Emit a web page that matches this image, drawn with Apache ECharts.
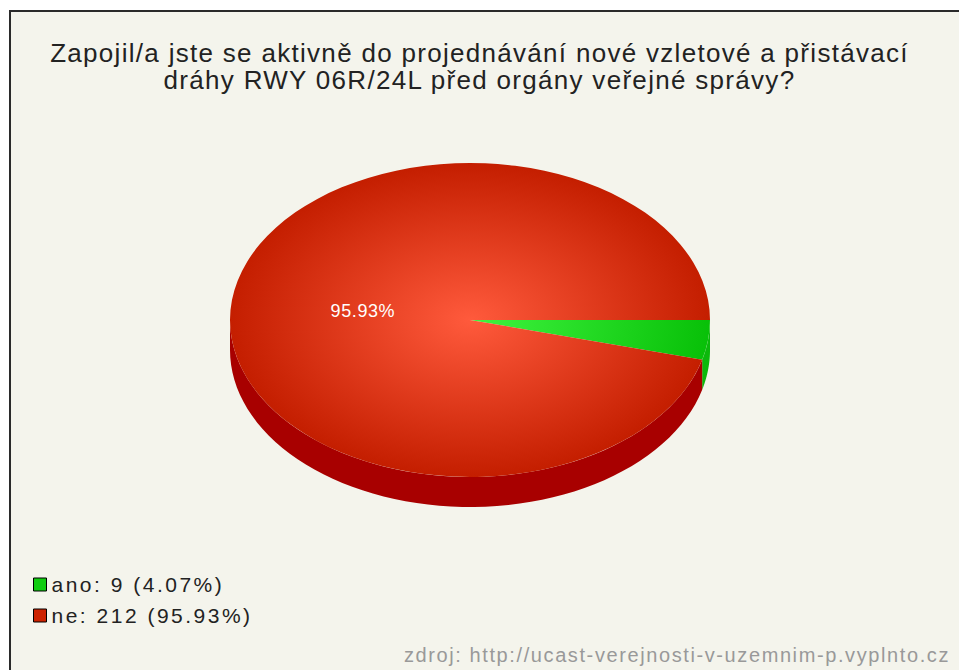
<!DOCTYPE html>
<html><head><meta charset="utf-8">
<script src="https://cdn.jsdelivr.net/npm/echarts@6/dist/echarts.min.js"></script>
<style>html,body{margin:0;padding:0;background:#fff}#c{width:959px;height:670px}</style>
</head><body><div id="c"></div><script>
const titleText = 'Zapojil/a jste se aktivně do projednávání nové vzletové a přistávací\ndráhy RWY 06R/24L před orgány veřejné správy?';
const categories = ['ano', 'ne'];
const values = [9, 212];
const sourceText = 'zdroj: http://ucast-verejnosti-v-uzemnim-p.vyplnto.cz';
const topColors = [['#40f540', '#08c008'], ['#ff5a3c', '#c41e00']];
const sideColors = ['#0cb80c', '#a80000'];
const legendColors = ['#11cc11', '#cc2200'];

const total = values.reduce((a, b) => a + b, 0);
const starts = [];
values.reduce((acc, v, i) => { starts[i] = acc; return acc + v; }, 0);
const pct = v => (v / total * 100).toFixed(2);

const CX = 470, CY = 320, RX = 240, RY = 157, DEPTH = 30;
const FONT = '"Liberation Sans", Arial, sans-serif';

function renderSlice(i) {
  return function (params, api) {
    const s = api.value(0), v = api.value(1);
    const a0 = s / total * Math.PI * 2, a1 = (s + v) / total * Math.PI * 2;
    const children = [];
    const fs = Math.max(a0, 0), fe = Math.min(a1, Math.PI);
    if (fs < fe) {
      const pts = [];
      const N = 60;
      for (let k = 0; k <= N; k++) {
        const a = fs + (fe - fs) * k / N;
        pts.push([CX + RX * Math.cos(a), CY + RY * Math.sin(a)]);
      }
      for (let k = N; k >= 0; k--) {
        const a = fs + (fe - fs) * k / N;
        pts.push([CX + RX * Math.cos(a), CY + RY * Math.sin(a) + DEPTH]);
      }
      children.push({ type: 'polygon', z2: 1, shape: { points: pts }, style: { fill: sideColors[i] } });
    }
    children.push({
      type: 'group', x: CX, y: CY, scaleY: RY / RX,
      children: [{
        type: 'sector', z2: 5,
        shape: { cx: 0, cy: 0, r: RX, r0: 0, startAngle: a0, endAngle: a1, clockwise: true },
        style: { fill: new echarts.graphic.RadialGradient(0, 0, RX, [
          { offset: 0, color: topColors[i][0] }, { offset: 1, color: topColors[i][1] }], true) }
      }]
    });
    if (v / total > 0.1) {
      const mid = (a0 + a1) / 2;
      children.push({
        type: 'text', z2: 10,
        x: CX + 0.45 * RX * Math.cos(mid), y: CY + 0.45 * RY * Math.sin(mid),
        style: { text: pct(v) + '%', fill: '#fff', font: '18px ' + FONT, align: 'center', verticalAlign: 'middle' }
      });
    }
    return { type: 'group', children };
  };
}

const chart = echarts.init(document.getElementById('c'), null, { renderer: 'svg' });
chart.setOption({
  backgroundColor: '#fff',
  animation: false,
  title: {
    text: titleText, left: 'center', top: 34,
    textStyle: { fontFamily: FONT, fontSize: 26, fontWeight: 'normal', color: '#222', lineHeight: 27 }
  },
  legend: {
    data: categories, orient: 'vertical', left: 28, top: 569,
    icon: 'rect', itemWidth: 13, itemHeight: 13, itemGap: 10,
    itemStyle: { borderColor: '#000', borderWidth: 1 },
    textStyle: { fontFamily: FONT, fontSize: 21, color: '#222' },
    formatter: name => { const i = categories.indexOf(name); return name + ': ' + values[i] + ' (' + pct(values[i]) + '%)'; }
  },
  graphic: [
    { type: 'rect', z: -10, shape: { x: 10, y: 11, width: 980, height: 690 }, style: { fill: '#f4f4ec', stroke: '#2a2a2a', lineWidth: 2 } },
    { type: 'text', x: 950, y: 655, style: { text: sourceText, fill: '#999', font: '20px ' + FONT, align: 'right', verticalAlign: 'middle' } }
  ],
  series: categories.map((name, i) => ({
    type: 'custom', name, coordinateSystem: 'none',
    itemStyle: { color: legendColors[i] },
    data: [[starts[i], values[i]]],
    renderItem: renderSlice(i)
  }))
});
// letter spacing per text size (reference text is spaced out)
const spacing = { 26: 1.3, 21: 2.5, 20: 1.6, 18: 0.6 };
document.querySelectorAll('#c text').forEach(el => {
  const fsz = Math.round(parseFloat(getComputedStyle(el).fontSize));
  if (spacing[fsz] !== undefined) el.style.letterSpacing = spacing[fsz] + 'px';
});
</script></body></html>
